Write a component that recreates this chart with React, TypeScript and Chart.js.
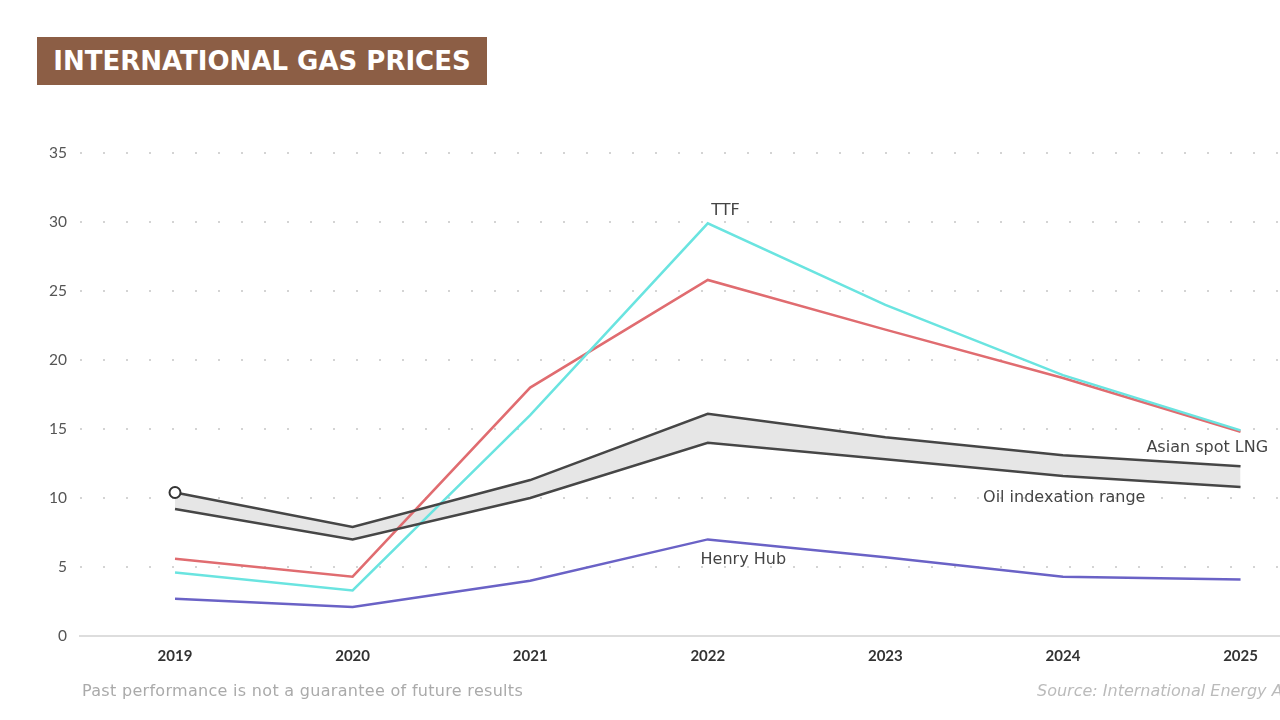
import React, { useEffect, useRef } from "react";
import { Chart, registerables } from "chart.js";

Chart.register(...registerables);

const years = [2019, 2020, 2021, 2022, 2023, 2024, 2025];
const ttf = [4.6, 3.3, 16.0, 29.9, 24.0, 18.9, 14.9];
const asianLng = [5.6, 4.3, 18.0, 25.8, 22.2, 18.7, 14.8];
const henryHub = [2.7, 2.1, 4.0, 7.0, 5.7, 4.3, 4.1];
const oilUpper = [10.4, 7.9, 11.3, 16.1, 14.4, 13.1, 12.3];
const oilLower = [9.2, 7.0, 10.0, 14.0, 12.8, 11.6, 10.8];
const yTicks = [0, 5, 10, 15, 20, 25, 30, 35];

const labels = [
  { text: "TTF", x: 2022.1, y: 30.8, align: "center" },
  { text: "Asian spot LNG", x: 2024.47, y: 13.6, align: "left" },
  { text: "Oil indexation range", x: 2023.55, y: 10.0, align: "left" },
  { text: "Henry Hub", x: 2022.2, y: 5.5, align: "center" },
];

const FONT = "Lato, 'Noto Sans', sans-serif";
const WIDE = "'DejaVu Sans', sans-serif";

const toXY = (arr: number[]) => arr.map((v, i) => ({ x: years[i], y: v }));

const labelPlugin = {
  id: "seriesLabels",
  afterDatasetsDraw(chart: any) {
    const { ctx, scales } = chart;
    ctx.save();
    ctx.font = `16px ${WIDE}`;
    ctx.fillStyle = "#444";
    ctx.textBaseline = "middle";
    for (const l of labels) {
      ctx.textAlign = l.align as CanvasTextAlign;
      ctx.fillText(l.text, scales.x.getPixelForValue(l.x), scales.y.getPixelForValue(l.y));
    }
    ctx.restore();
  },
};

export default function App() {
  const ref = useRef<HTMLCanvasElement>(null);
  useEffect(() => {
    if (!ref.current) return;
    const line = (label: string, data: number[], color: string, extra: any = {}) => ({
      label,
      data: toXY(data),
      borderColor: color,
      borderWidth: 2.5,
      pointRadius: 0,
      tension: 0,
      fill: false,
      ...extra,
    });
    const chart = new Chart(ref.current, {
      type: "line",
      data: {
        datasets: [
          line("Henry Hub", henryHub, "#6a62c6"),
          line("Oil indexation upper", oilUpper, "#464646", {
            fill: "+1",
            backgroundColor: "#e6e6e6",
            pointRadius: oilUpper.map((_, i) => (i === 0 ? 5.5 : 0)),
            pointBackgroundColor: "#ffffff",
            pointBorderColor: "#333333",
            pointBorderWidth: 2,
          }),
          line("Oil indexation lower", oilLower, "#464646"),
          line("TTF", ttf, "#6ae4e0"),
          line("Asian spot LNG", asianLng, "#e06c70"),
        ],
      },
      options: {
        animation: false,
        responsive: false,
        layout: { padding: { top: 153, left: 0, right: 0, bottom: 0 } },
        plugins: {
          legend: { display: false },
          tooltip: { enabled: false },
          filler: { drawTime: "beforeDatasetsDraw" },
        },
        scales: {
          x: {
            type: "linear",
            min: 2018.465,
            max: 2025.225,
            afterBuildTicks: (scale: any) => {
              scale.ticks = years.map((v) => ({ value: v }));
            },
            afterFit: (scale: any) => {
              scale.height = 84;
              scale.paddingLeft = 0;
              scale.paddingRight = 0;
            },
            grid: { display: false, drawTicks: false },
            border: { display: true, color: "#dddddd", width: 2 },
            ticks: {
              padding: 11,
              color: "#333",
              font: { family: FONT, size: 15, weight: "bold" },
              callback: (v: any) => String(v),
              autoSkip: false,
              maxRotation: 0,
            },
          },
          y: {
            min: 0,
            max: 35,
            afterBuildTicks: (scale: any) => {
              scale.ticks = yTicks.map((v) => ({ value: v }));
            },
            afterFit: (scale: any) => {
              scale.width = 80;
            },
            grid: {
              drawTicks: false,
              color: (c: any) => (c.tick && c.tick.value === 0 ? "rgba(0,0,0,0)" : "#d4d4d4"),
              lineWidth: 2,
            },
            border: { display: false, dash: [2, 21] },
            ticks: {
              padding: 13,
              color: "#555",
              font: { family: FONT, size: 15.5 },
            },
          },
        },
      },
      plugins: [labelPlugin],
    } as any);
    return () => chart.destroy();
  }, []);

  return (
    <div style={{ position: "fixed", left: 0, top: 0, width: 1280, height: 720, background: "#fff", overflow: "hidden", fontFamily: FONT }}>
      <canvas ref={ref} width={1288} height={720} style={{ position: "absolute", left: 0, top: 0 }} />
      <div
        style={{
          position: "absolute",
          left: 37,
          top: 37,
          width: 450,
          height: 48,
          background: "#8c5e45",
          color: "#fff",
          fontFamily: WIDE,
          fontWeight: 700,
          fontSize: 26,
          lineHeight: "48px",
          textAlign: "center",
          whiteSpace: "nowrap",
        }}
      >
        INTERNATIONAL GAS PRICES
      </div>
      <div style={{ position: "absolute", left: 82, top: 681, fontFamily: WIDE, fontSize: 16, letterSpacing: 0.3, color: "#aaa", whiteSpace: "nowrap" }}>
        Past performance is not a guarantee of future results
      </div>
      <div style={{ position: "absolute", left: 1037, top: 681, fontFamily: WIDE, fontSize: 16, color: "#bbb", fontStyle: "italic", whiteSpace: "nowrap" }}>
        Source: International Energy Agency
      </div>
    </div>
  );
}
